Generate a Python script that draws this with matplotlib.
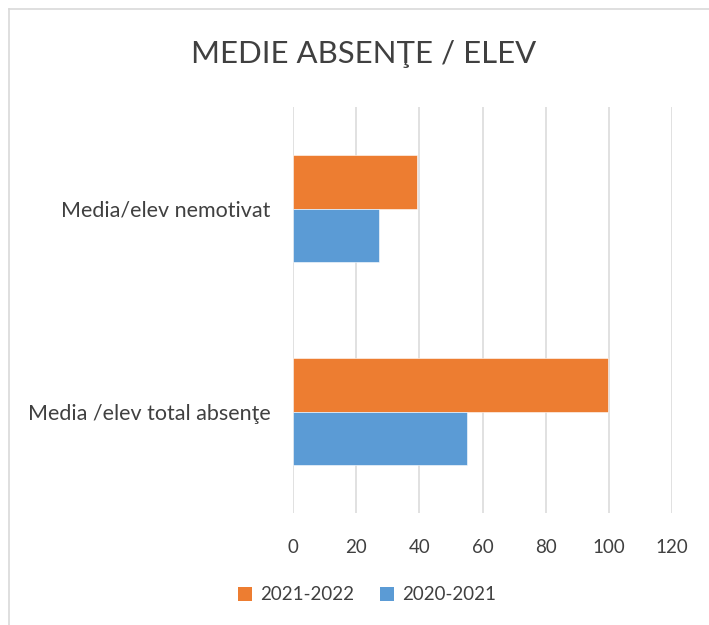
import matplotlib
matplotlib.use("Agg")
import matplotlib.pyplot as plt
from matplotlib.lines import Line2D
from matplotlib.patches import Patch
import numpy as np

plt.rcParams['font.family'] = ['Lato', 'DejaVu Sans']

categories = ["Media /elev total absenţe", "Media/elev nemotivat"]
series_names = ["2021-2022", "2020-2021"]
values_2021_2022 = [99.6, 39.4]
values_2020_2021 = [55.0, 27.2]
xticks = [0, 20, 40, 60, 80, 100, 120]
title = "MEDIE ABSENŢE / ELEV"

orange = "#ED7D31"
blue = "#5B9BD5"
text_color = "#404040"
grid_color = "#D9D9D9"

W, H = 709, 625
fig = plt.figure(figsize=(W / 100, H / 100), dpi=100)
ax = fig.add_axes([293 / W, 1 - 513 / H, (672 - 293) / W, (513 - 107) / H])

y = np.arange(len(categories))
h = 0.266
ax.barh(y + h / 2, values_2021_2022, height=h, color=orange, edgecolor="white", linewidth=0.4, zorder=3)
ax.barh(y - h / 2, values_2020_2021, height=h, color=blue, edgecolor="white", linewidth=0.4, zorder=3)

ax.set_xlim(0, 120)
ax.set_ylim(-0.5, 1.5)
ax.set_xticks(xticks)
ax.set_xticklabels([str(t) for t in xticks], fontsize=13.5, color=text_color)
ax.set_yticks(y)
ax.set_yticklabels(categories, fontsize=15.5, color=text_color)
ax.tick_params(axis='x', length=0, pad=19)
ax.tick_params(axis='y', length=0, pad=16)
ax.grid(axis='x', color=grid_color, linewidth=1.1, zorder=0)
for s in ax.spines.values():
    s.set_visible(False)

fig.text(364 / W, 1 - 54 / H, title, ha='center', va='center', fontsize=22.4, color=text_color)

handles = [Patch(facecolor=orange, label=series_names[0]), Patch(facecolor=blue, label=series_names[1])]
leg = fig.legend(handles=handles, loc='center', bbox_to_anchor=(367 / W, 1 - 595 / H), ncol=2,
                 frameon=False, fontsize=13.5, handlelength=0.75, handleheight=0.75,
                 handletextpad=0.4, columnspacing=1.4)
for t in leg.get_texts():
    t.set_color(text_color)

# chart border (left and top visible)
fig.add_artist(Line2D([9 / W, 9 / W], [0, 1 - 9 / H], color=grid_color, linewidth=1.2, transform=fig.transFigure))
fig.add_artist(Line2D([9 / W, 1], [1 - 9 / H, 1 - 9 / H], color=grid_color, linewidth=1.2, transform=fig.transFigure))

fig.savefig("out.png", dpi=100, facecolor="white")
